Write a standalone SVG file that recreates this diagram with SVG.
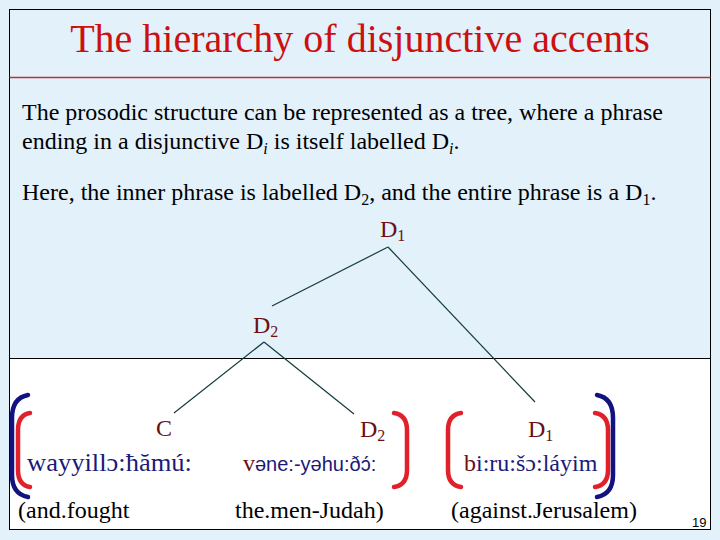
<svg xmlns="http://www.w3.org/2000/svg" width="720" height="540" viewBox="0 0 720 540" font-family="Liberation Serif, Times New Roman, serif">
<style>
.title{font-size:40px;fill:#cc1010}
.body{font-size:24px;fill:#000}
.lab{font-size:24px;fill:#6b1010}
.sub{font-size:16px}
.nv{fill:#1a1a78}
.dr{fill:#6b1010}
.gl{font-size:24px;fill:#000}
.edge{stroke:#143c3c;stroke-width:1.2;fill:none}
.bn{stroke:#121280;stroke-width:4.5;fill:none;stroke-linecap:round}
.br{stroke:#e0202a;stroke-width:4.5;fill:none;stroke-linecap:round}
</style>
<rect x="0" y="0" width="720" height="540" fill="#e3f1fb"/>
<rect x="9.5" y="358.5" width="701" height="171" fill="#ffffff"/>
<rect x="9.5" y="9.5" width="701" height="520" fill="none" stroke="#000" stroke-width="1"/>
<line x1="9.5" y1="77.5" x2="710.5" y2="77.5" stroke="#c03030" stroke-width="1.3"/>
<line x1="9.5" y1="358.5" x2="710.5" y2="358.5" stroke="#000" stroke-width="1"/>

<g id="title"><text class="title" x="360" y="52" text-anchor="middle">The hierarchy of disjunctive accents</text></g>
<g id="intro">
<text class="body" x="22" y="120">The prosodic structure can be represented as a tree, where a phrase</text>
<text class="body" x="22" y="149">ending in a disjunctive D<tspan class="sub" font-style="italic" dy="5">i</tspan><tspan dy="-5"> is itself labelled D</tspan><tspan class="sub" font-style="italic" dy="5">i</tspan><tspan dy="-5">.</tspan></text>
<text class="body" x="22" y="200">Here, the inner phrase is labelled D<tspan class="sub" dy="5">2</tspan><tspan dy="-5">, and the entire phrase is a D</tspan><tspan class="sub" dy="5">1</tspan><tspan dy="-5">.</tspan></text>
</g>

<g id="connectors">
<line class="edge" x1="388" y1="247" x2="272" y2="306"/>
<line class="edge" x1="388" y1="247" x2="535" y2="402"/>
<line class="edge" x1="264" y1="342" x2="174" y2="413"/>
<line class="edge" x1="264" y1="342" x2="354" y2="414"/>
</g>

<g id="node-D1-top"><text class="lab" x="380" y="237">D<tspan class="sub" dy="4">1</tspan></text></g>
<g id="node-D2-mid"><text class="lab" x="253" y="333">D<tspan class="sub" dy="4">2</tspan></text></g>
<g id="node-C"><text class="lab" x="156" y="436">C</text></g>
<g id="node-D2-low"><text class="lab" x="360" y="437">D<tspan class="sub" dy="4">2</tspan></text></g>
<g id="node-D1-low"><text class="lab" x="528" y="437">D<tspan class="sub" dy="4">1</tspan></text></g>

<g id="words">
<text class="nv" font-size="26" x="27" y="471" textLength="165" lengthAdjust="spacingAndGlyphs">wayyillɔ:ħămú:</text>
<text font-size="24" x="243" y="471"><tspan class="dr">v</tspan><tspan class="nv" font-family="Liberation Sans, Arial, sans-serif" font-size="20">əne:-yəhu:ðɔ́:</tspan></text>
<text class="nv" font-size="24" x="464" y="471"><tspan class="dr">b</tspan>i:ru:šɔ:láyim</text>
</g>

<g id="glosses">
<text class="gl" x="18" y="518">(and.fought</text>
<text class="gl" x="235" y="518">the.men-Judah)</text>
<text class="gl" x="451" y="518">(against.Jerusalem)</text>
<text x="692" y="527" font-family="Liberation Sans, Arial, sans-serif" font-size="13" fill="#000">19</text>
</g>

<g id="brackets">
<path class="bn" d="M28,395 Q12,398 12,418 L12,475 Q12,494 28,497"/>
<path class="br" d="M30,413 Q18,415 18,430 L18,470 Q18,485 30,487"/>
<path class="br" d="M394,413 Q407,415 407,430 L407,470 Q407,485 394,487"/>
<path class="br" d="M461,413 Q448,415 448,430 L448,470 Q448,485 461,487"/>
<path class="br" d="M595,413 Q608,415 608,430 L608,470 Q608,485 595,487"/>
<path class="bn" d="M597,395 Q613,398 613,418 L613,475 Q613,494 597,497"/>
</g>
</svg>
